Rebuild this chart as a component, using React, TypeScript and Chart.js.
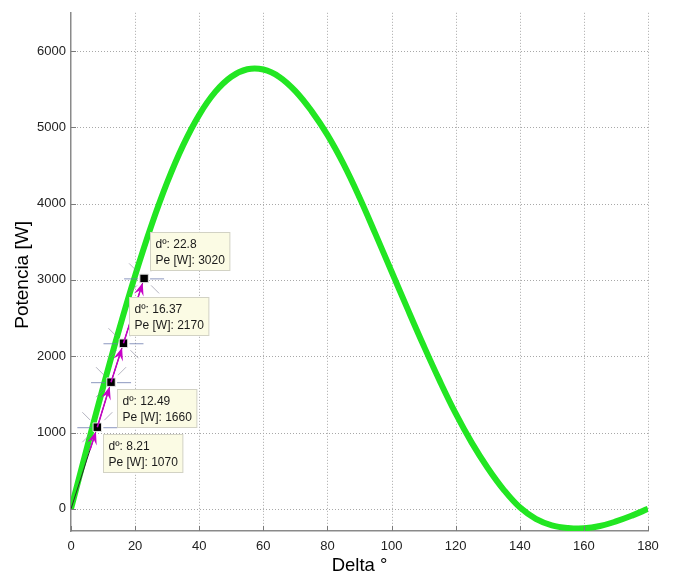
import React, { useEffect, useRef } from "react";
import { Chart, registerables } from "chart.js";
Chart.register(...registerables);

// Green power-angle curve
const deltaDeg = [0, 5, 10, 15, 20, 25, 30, 35, 40, 45, 50, 55, 60, 65, 70, 75, 80, 85, 90, 95, 100, 105, 110, 115, 120, 125, 130, 135, 140, 145, 150, 155, 160, 165, 170, 175, 180];
const powerW = [0, 805, 1592, 2349, 3056, 3703, 4277, 4766, 5163, 5463, 5662, 5760, 5757, 5660, 5474, 5215, 4900, 4520, 4080, 3600, 3110, 2620, 2140, 1680, 1250, 868, 536, 250, 20, -130, -215, -250, -255, -225, -165, -88, 0];

// Measured points (data tips)
const tipDelta = [8.21, 12.49, 16.37, 22.8];
const tipPower = [1070, 1660, 2170, 3020];
const tipAbove = [false, false, true, true];

const xTicks = [0, 20, 40, 60, 80, 100, 120, 140, 160, 180];
const yTicks = [0, 1000, 2000, 3000, 4000, 5000, 6000];
const xTitle = "Delta \u00B0";
const yTitle = "Potencia [W]";
const FONT = "Arial, 'Liberation Sans', Helvetica, sans-serif";

const decor = {
  id: "decor",
  beforeDatasetsDraw(chart: any) {
    const ctx = chart.ctx;
    const xs = chart.scales.x;
    const ys = chart.scales.y;
    const { left, right, top, bottom } = chart.chartArea;
    ctx.save();
    ctx.strokeStyle = "#a8a8a8";
    ctx.lineWidth = 1;
    ctx.setLineDash([1, 2]);
    xTicks.forEach((v) => {
      if (v === xTicks[0]) return;
      const px = Math.round(xs.getPixelForValue(v)) + 0.5;
      ctx.beginPath();
      ctx.moveTo(px, top);
      ctx.lineTo(px, bottom);
      ctx.stroke();
    });
    yTicks.forEach((v) => {
      const py = Math.round(ys.getPixelForValue(v)) + 0.5;
      ctx.beginPath();
      ctx.moveTo(left, py);
      ctx.lineTo(right, py);
      ctx.stroke();
    });
    ctx.restore();
  },
  afterDatasetsDraw(chart: any) {
    const ctx = chart.ctx;
    const xs = chart.scales.x;
    const ys = chart.scales.y;
    const { left, bottom } = chart.chartArea;
    ctx.save();
    // inward tick marks
    ctx.strokeStyle = "#7a7a7a";
    ctx.lineWidth = 1;
    xTicks.forEach((v) => {
      const px = Math.round(xs.getPixelForValue(v)) + 0.5;
      ctx.beginPath();
      ctx.moveTo(px, bottom);
      ctx.lineTo(px, bottom - 5);
      ctx.stroke();
    });
    yTicks.forEach((v) => {
      const py = Math.round(ys.getPixelForValue(v)) + 0.5;
      ctx.beginPath();
      ctx.moveTo(left, py);
      ctx.lineTo(left + 5, py);
      ctx.stroke();
    });

    const pts = tipDelta.map((d, i) => ({ x: xs.getPixelForValue(d), y: ys.getPixelForValue(tipPower[i]) }));
    const ox = xs.getPixelForValue(0);
    const oy = ys.getPixelForValue(0);

    // crosshairs
    pts.forEach((p) => {
      ctx.strokeStyle = "rgba(110,125,175,0.8)";
      ctx.lineWidth = 1;
      ctx.beginPath();
      ctx.moveTo(p.x - 20, p.y + 0.5);
      ctx.lineTo(p.x - 6, p.y + 0.5);
      ctx.moveTo(p.x + 6, p.y + 0.5);
      ctx.lineTo(p.x + 20, p.y + 0.5);
      ctx.stroke();
      ctx.strokeStyle = "rgba(130,130,150,0.6)";
      [[-1, -1], [1, 1], [1, -1], [-1, 1]].forEach(([dx, dy]) => {
        ctx.beginPath();
        ctx.moveTo(p.x + dx * 7, p.y + dy * 7);
        ctx.lineTo(p.x + dx * 15, p.y + dy * 15);
        ctx.stroke();
      });
    });

    // magenta arrows
    const drawArrow = (fx: number, fy: number, tx: number, ty: number) => {
      const dx = tx - fx, dy = ty - fy;
      const len = Math.hypot(dx, dy);
      const ux = dx / len, uy = dy / len;
      const ex = tx - ux * 4.5, ey = ty - uy * 4.5;
      ctx.strokeStyle = "#c800c8";
      ctx.fillStyle = "#c800c8";
      ctx.lineWidth = 1.5;
      ctx.beginPath();
      ctx.moveTo(fx, fy);
      ctx.lineTo(ex - ux * 6, ey - uy * 6);
      ctx.stroke();
      const L = 13, W = 5, N = 8;
      const bx = ex - ux * L, by = ey - uy * L;
      const nx = -uy, ny = ux;
      ctx.beginPath();
      ctx.moveTo(ex, ey);
      ctx.lineTo(bx + nx * W, by + ny * W);
      ctx.lineTo(ex - ux * N, ey - uy * N);
      ctx.lineTo(bx - nx * W, by - ny * W);
      ctx.closePath();
      ctx.fill();
    };
    pts.forEach((p, i) => {
      if (i === 0) {
        const dx = p.x - ox, dy = p.y - oy;
        const l = Math.hypot(dx, dy);
        drawArrow(p.x - (dx / l) * 24, p.y - (dy / l) * 24, p.x, p.y);
      } else {
        drawArrow(pts[i - 1].x, pts[i - 1].y, p.x, p.y);
      }
    });
    ctx.restore();
  },
  afterDraw(chart: any) {
    const ctx = chart.ctx;
    const xs = chart.scales.x;
    const ys = chart.scales.y;
    const { left, right, top, bottom } = chart.chartArea;
    ctx.save();
    // data tip boxes
    ctx.font = `12px ${FONT}`;
    tipDelta.forEach((d, i) => {
      const px = xs.getPixelForValue(d);
      const py = ys.getPixelForValue(tipPower[i]);
      const l1 = `d\u00BA: ${d}`;
      const l2 = `Pe [W]: ${tipPower[i]}`;
      const w = Math.max(ctx.measureText(l1).width, ctx.measureText(l2).width) + 10;
      const h = 38;
      const bx = Math.round(px + 6) + 0.5;
      const by = Math.round(tipAbove[i] ? py - 46 : py + 7) + 0.5;
      ctx.fillStyle = "#fbfbe4";
      ctx.strokeStyle = "#d2d2c4";
      ctx.lineWidth = 1;
      ctx.fillRect(bx, by, w, h);
      ctx.strokeRect(bx, by, w, h);
      ctx.fillStyle = "#1a1a1a";
      ctx.textAlign = "left";
      ctx.textBaseline = "middle";
      ctx.fillText(l1, bx + 5, by + 12);
      ctx.fillText(l2, bx + 5, by + 28);
    });
    // axis titles
    ctx.fillStyle = "#000";
    ctx.textAlign = "center";
    ctx.textBaseline = "middle";
    ctx.font = `18.5px ${FONT}`;
    ctx.fillText(xTitle, (left + right) / 2, 566);
    ctx.save();
    ctx.translate(23, (top + bottom) / 2 + 3);
    ctx.rotate(-Math.PI / 2);
    ctx.font = `19px ${FONT}`;
    ctx.fillText(yTitle, 0, 0);
    ctx.restore();
    ctx.restore();
  },
};

export default function App() {
  const ref = useRef<HTMLCanvasElement | null>(null);
  useEffect(() => {
    if (!ref.current) return;
    Chart.defaults.font.family = FONT;
    const chart = new Chart(ref.current, {
      type: "line",
      data: {
        datasets: [
          {
            data: [0, ...tipDelta].map((d, i) => ({ x: d, y: [0, ...tipPower][i] })),
            borderColor: "#2a2a2a",
            borderWidth: 1,
            pointRadius: [0, 6, 6, 6, 6],
            pointStyle: "rect",
            pointBackgroundColor: "#000",
            pointBorderColor: "#e4e4e4",
            pointBorderWidth: 1,
            tension: 0,
            order: 1,
          } as any,
          {
            data: deltaDeg.map((d, i) => ({ x: d, y: powerW[i] })),
            borderColor: "#22e622",
            borderWidth: 6,
            pointRadius: 0,
            tension: 0.4,
            order: 2,
          } as any,
        ],
      },
      options: {
        animation: false,
        responsive: true,
        maintainAspectRatio: false,
        layout: { padding: { left: 0, right: 25, top: 12, bottom: 0 } },
        plugins: { legend: { display: false }, tooltip: { enabled: false } },
        scales: {
          x: {
            type: "linear",
            min: 0,
            max: 180,
            afterBuildTicks: (s: any) => {
              s.ticks = xTicks.map((v) => ({ value: v }));
            },
            afterFit: (s: any) => {
              s.height = 44;
            },
            ticks: { color: "#222", font: { size: 13 }, padding: 8, maxRotation: 0, callback: (v: any) => String(v) },
            grid: { color: "rgba(0,0,0,0)", drawTicks: false, lineWidth: 1 },
            border: { display: true, color: "#8a8a8a", width: 1.5 },
          },
          y: {
            type: "linear",
            min: -290,
            max: 6500,
            afterBuildTicks: (s: any) => {
              s.ticks = yTicks.map((v) => ({ value: v }));
            },
            afterFit: (s: any) => {
              s.width = 71;
            },
            ticks: { color: "#222", font: { size: 13 }, padding: 5, callback: (v: any) => String(v) },
            grid: { color: "rgba(0,0,0,0)", drawTicks: false, lineWidth: 1 },
            border: { display: true, color: "#8a8a8a", width: 1.5 },
          },
        },
      },
      plugins: [decor],
    } as any);
    return () => chart.destroy();
  }, []);
  return (
    <div style={{ position: "absolute", left: 0, top: 0, width: 673, height: 575, background: "#fff" }}>
      <canvas ref={ref} />
    </div>
  );
}
